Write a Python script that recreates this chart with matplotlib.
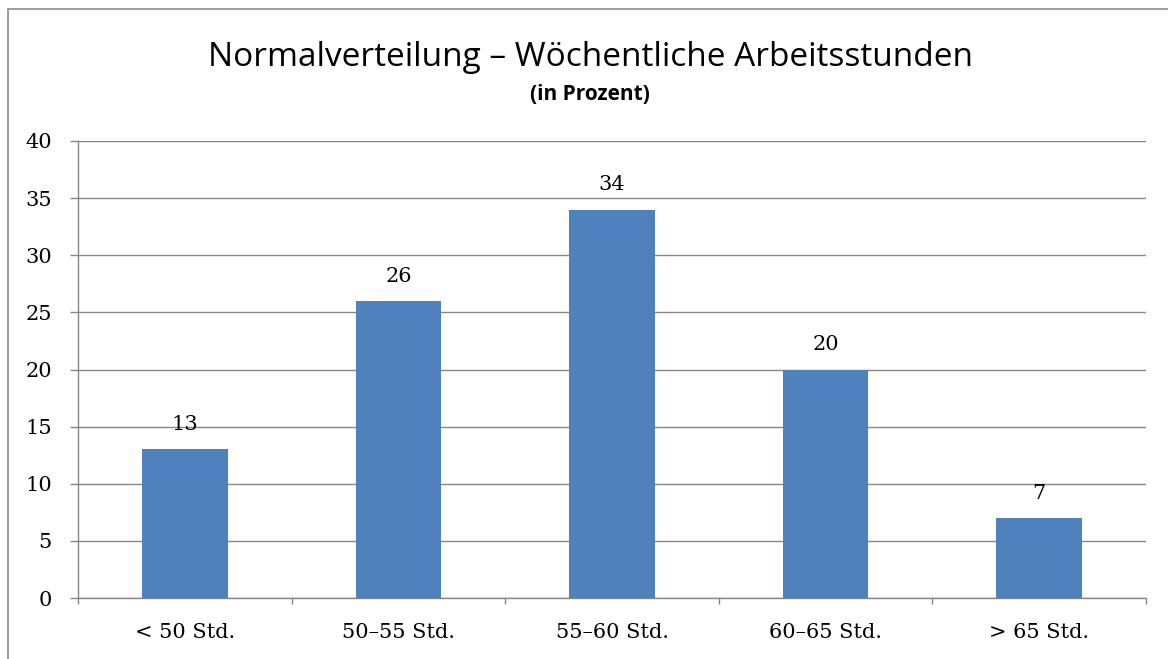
import matplotlib
matplotlib.use("Agg")

import matplotlib.pyplot as plt
from matplotlib.patches import Rectangle

# -----------------------------
# Data
# -----------------------------
categories = ["< 50 Std.", "50\u201355 Std.", "55\u201360 Std.", "60\u201365 Std.", "> 65 Std."]
values = [13, 26, 34, 20, 7]
yticks = [0, 5, 10, 15, 20, 25, 30, 35, 40]

BAR_COLOR = "#4F81BD"
GRID_COLOR = "#868686"
TITLE_FONT = "Open Sans"
LABEL_FONT = "DejaVu Serif"

W, H = 1168, 659
fig = plt.figure(figsize=(W / 100, H / 100), dpi=100)

# outer chart border (Excel style)
fig.patches.append(Rectangle((8 / W, -0.01), 1.2, (H - 9) / H + 0.01,
                             transform=fig.transFigure, fill=False,
                             edgecolor="#8c8c8c", linewidth=1.2))

ax = fig.add_axes([78 / W, (H - 598) / H, (1146 - 78) / W, (598 - 141) / H])

x = list(range(len(categories)))
ax.bar(x, values, width=0.4, color=BAR_COLOR, zorder=3)

ax.set_xlim(-0.5, len(categories) - 0.5)
ax.set_ylim(0, 40)

# y axis
ax.set_yticks(yticks)
ax.set_yticklabels([str(v) for v in yticks], fontfamily=LABEL_FONT, fontsize=15)
ax.yaxis.grid(True, color=GRID_COLOR, linewidth=1.0, zorder=0)
ax.tick_params(axis="y", direction="out", length=5.8, width=1.0, color=GRID_COLOR, pad=13)

# x axis: ticks at the category boundaries
ax.set_xticks([i - 0.5 for i in range(len(categories) + 1)], minor=False)
ax.set_xticklabels([])
ax.set_xticks(x, minor=True)
ax.set_xticklabels(categories, minor=True, fontfamily=LABEL_FONT, fontsize=15)
ax.tick_params(axis="x", which="major", direction="out", length=4.5, width=1.0, color=GRID_COLOR)
ax.tick_params(axis="x", which="minor", length=0, pad=18)

for side in ["top", "right"]:
    ax.spines[side].set_visible(False)
for side in ["left", "bottom"]:
    ax.spines[side].set_color(GRID_COLOR)
    ax.spines[side].set_linewidth(1.0)

# data labels
for xi, v in zip(x, values):
    ax.annotate(str(v), (xi, v), xytext=(0, 11), textcoords="offset points",
                ha="center", va="bottom", fontfamily=LABEL_FONT, fontsize=15, zorder=4)

# titles
fig.text(590 / W, 1 - 57 / H, "Normalverteilung \u2013 W\u00f6chentliche Arbeitsstunden",
         ha="center", va="center", fontfamily=TITLE_FONT, fontsize=24)
fig.text(590 / W, 1 - 95 / H, "(in Prozent)", ha="center", va="center",
         fontfamily=TITLE_FONT, fontsize=15, fontweight="bold")

fig.savefig("out.png", dpi=100)
